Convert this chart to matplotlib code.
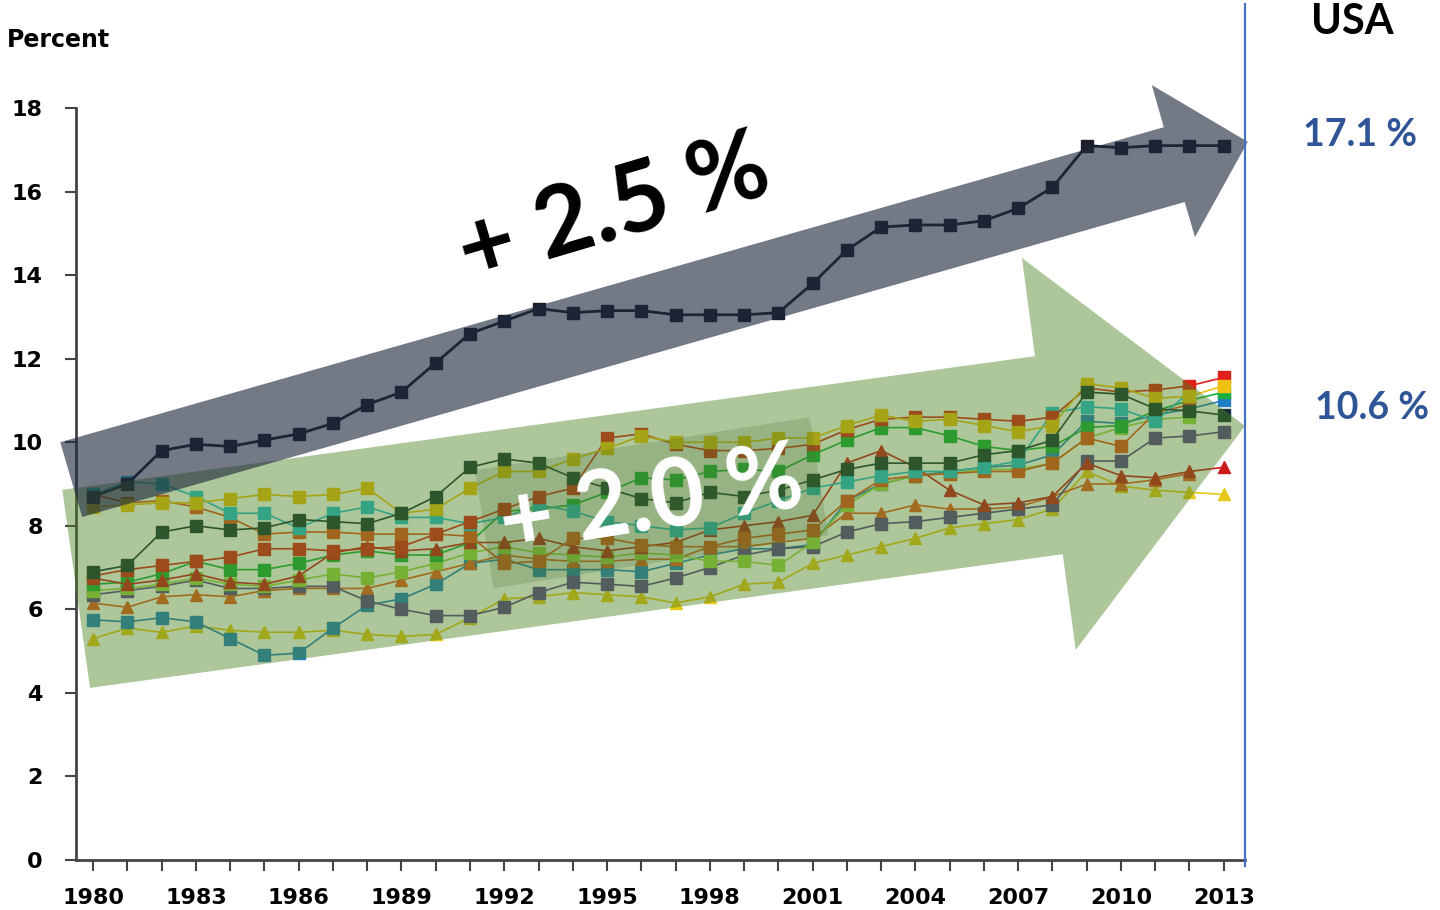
import numpy as np
import matplotlib
matplotlib.use("Agg")
import matplotlib.pyplot as plt
from matplotlib.patches import Polygon
from matplotlib.lines import Line2D

nan = np.nan
years = list(range(1980, 2014))
tick_years = list(range(1980, 2014, 3))

# health spending, percent of GDP
usa = [8.7, 9.0, 9.8, 9.95, 9.9, 10.05, 10.2, 10.45, 10.9, 11.2, 11.9, 12.6, 12.9, 13.2, 13.1, 13.15, 13.15,
       13.05, 13.05, 13.05, 13.1, 13.8, 14.6, 15.15, 15.2, 15.2, 15.3, 15.6, 16.1, 17.1, 17.05, 17.1, 17.1, 17.1]
dark_sq = [6.9, 7.05, 7.85, 8.0, 7.9, 7.95, 8.15, 8.1, 8.05, 8.3, 8.7, 9.4, 9.6, 9.5, 9.15, 8.9, 8.65,
           8.55, 8.8, 8.7, 8.85, 9.1, 9.35, 9.5, 9.5, 9.5, 9.7, 9.8, 10.05, 11.2, 11.15, 10.8, 10.75, 10.65]
yellow_sq = [8.45, 8.5, 8.55, 8.55, 8.65, 8.75, 8.7, 8.75, 8.9, 8.3, 8.4, 8.9, 9.3, 9.3, 9.6, 9.85, 10.15,
             10.0, 10.0, 10.0, 10.1, 10.1, 10.4, 10.65, 10.5, 10.55, 10.4, 10.25, 10.4, 11.4, 11.3, 11.05, 11.1, 11.35]
red_sq = [6.8, 6.95, 7.05, 7.15, 7.25, 7.45, 7.45, 7.4, 7.45, 7.5, 7.8, 8.1, 8.4, 8.7, 8.9, 10.1, 10.2,
          9.95, 9.8, 9.8, 9.85, 9.95, 10.3, 10.55, 10.6, 10.6, 10.55, 10.5, 10.6, 11.3, 11.2, 11.25, 11.35, 11.55]
orange_sq = [8.75, 8.55, 8.6, 8.45, 8.2, 7.8, 7.85, 7.85, 7.8, 7.8, 7.8, 7.75, 7.1, 7.15, 7.7, 7.7, 7.55,
             7.5, 7.5, 7.7, 7.8, 7.9, 8.6, 9.1, 9.2, 9.25, 9.3, 9.3, 9.5, 10.1, 9.9, 10.7, 10.9, nan]
cyan_sq = [8.75, 9.05, 9.0, 8.7, 8.3, 8.3, 7.95, 8.3, 8.45, 8.2, 8.2, 8.05, 8.2, 8.5, 8.35, 8.1, 8.0,
           7.9, 7.95, 8.3, 8.6, 8.9, 9.05, 9.2, 9.3, 9.3, 9.4, 9.55, 10.7, 10.85, 10.8, 10.5, 11.2, nan]
blue_sq = [5.75, 5.7, 5.8, 5.7, 5.3, 4.9, 4.95, 5.55, 6.1, 6.25, 6.6, 7.1, 7.2, 6.95, 6.95, 6.95, 6.9,
           7.1, 7.3, 7.45, 7.45, 7.55, 8.6, 9.0, 9.2, 9.3, 9.4, 9.45, 9.7, 10.5, 10.45, 10.65, 10.8, 11.0]
green_sq = [6.6, 6.65, 6.85, 7.15, 6.95, 6.95, 7.1, 7.3, 7.4, 7.3, 7.3, 7.6, 8.35, 8.4, 8.5, 8.8, 9.15,
            9.1, 9.3, 9.35, 9.3, 9.7, 10.05, 10.35, 10.35, 10.15, 9.9, 9.8, 9.9, 10.35, 10.4, 10.75, 11.0, 11.2]
lgreen_sq = [6.45, 6.5, 6.6, 6.75, 6.6, 6.55, 6.7, 6.85, 6.75, 6.9, 7.1, 7.35, 7.5, 7.35, 7.3, 7.25, 7.35,
             7.3, 7.15, 7.15, 7.05, 7.6, 8.5, 9.0, 9.2, 9.25, 9.35, 9.35, 9.5, 10.1, 10.35, 10.55, 10.6, nan]
purple_sq = [6.35, 6.45, 6.55, 6.7, 6.5, 6.5, 6.55, 6.55, 6.2, 6.0, 5.85, 5.85, 6.05, 6.4, 6.65, 6.6, 6.55,
             6.75, 7.0, 7.3, 7.45, 7.5, 7.85, 8.05, 8.1, 8.2, 8.3, 8.4, 8.5, 9.55, 9.55, 10.1, 10.15, 10.25]
red_tri = [6.75, 6.6, 6.7, 6.85, 6.65, 6.6, 6.8, 7.35, 7.5, 7.4, 7.45, 7.6, 7.6, 7.7, 7.5, 7.4, 7.5,
           7.6, 7.9, 8.0, 8.1, 8.25, 9.5, 9.8, 9.4, 8.85, 8.5, 8.55, 8.7, 9.5, 9.2, 9.15, 9.3, 9.4]
orange_tri = [6.15, 6.05, 6.3, 6.35, 6.3, 6.45, 6.5, 6.5, 6.5, 6.7, 6.9, 7.1, 7.3, 7.2, 7.15, 7.15, 7.2,
              7.2, 7.5, 7.5, 7.6, 7.7, 8.3, 8.3, 8.5, 8.4, 8.4, 8.45, 8.7, 9.0, 9.0, 9.1, 9.25, nan]
yellow_tri = [5.3, 5.55, 5.45, 5.6, 5.5, 5.45, 5.45, 5.5, 5.4, 5.35, 5.4, 5.8, 6.25, 6.3, 6.4, 6.35, 6.3,
              6.15, 6.3, 6.6, 6.65, 7.1, 7.3, 7.5, 7.7, 7.95, 8.05, 8.15, 8.4, 9.3, 8.95, 8.85, 8.8, 8.75]

others = [
    (yellow_tri, '#e8c818', '^'),
    (blue_sq, '#1f7fc4', 's'),
    (orange_tri, '#e85a22', '^'),
    (purple_sq, '#5a3f90', 's'),
    (lgreen_sq, '#9ad84a', 's'),
    (green_sq, '#18b040', 's'),
    (red_tri, '#cc1a1a', '^'),
    (orange_sq, '#e8501e', 's'),
    (cyan_sq, '#22c0d8', 's'),
    (red_sq, '#e02018', 's'),
    (yellow_sq, '#f0c010', 's'),
    (dark_sq, '#15333a', 's'),
]

# trend arrows as (year, percent) outlines
dark_arrow = [(1979.04, 10.0), (2011.25, 17.54), (2010.9, 18.55), (2013.7, 17.19),
              (2012.16, 14.91), (2011.86, 15.75), (1979.68, 8.21)]
green_arrow = [(1979.1, 8.86), (2007.49, 12.06), (2007.11, 14.41), (2013.62, 10.39),
               (2008.68, 5.03), (2008.3, 7.32), (1979.91, 4.12)]

label_font = ['Lato', 'DejaVu Sans']

fig = plt.figure(figsize=(14.4, 9.1), dpi=100)
ax = fig.add_axes([76 / 1440, 50 / 910, (1245 - 76) / 1440, (860 - 108) / 910])

for vals, col, mk in others:
    ax.plot(years, vals, color=col, marker=mk, markersize=8, lw=1.2)
ax.plot(years, usa, color='#1a1f2b', marker='s', markersize=8.5, lw=2)

ax.set_xlim(1979.5, 2013.62)
ax.set_ylim(0, 18)
ax.set_yticks(range(0, 19, 2))
ax.set_xticks(years)
ax.set_xticklabels([str(y) if y in tick_years else '' for y in years])
for s in ['top', 'right']:
    ax.spines[s].set_visible(False)
for s in ['left', 'bottom']:
    ax.spines[s].set_color('#444444')
    ax.spines[s].set_linewidth(2)
ax.tick_params(axis='both', length=8, width=1.5, color='#444444', labelsize=16)
ax.tick_params(axis='y', pad=16)
ax.tick_params(axis='x', pad=12)
for lab in ax.get_xticklabels() + ax.get_yticklabels():
    lab.set_fontweight('heavy')

ax.add_patch(Polygon(green_arrow, closed=True, fc='#4b821f', ec='none', alpha=0.45,
                     clip_on=False, zorder=5))
ax.add_patch(Polygon(dark_arrow, closed=True, fc='#1e283c', ec='none', alpha=0.62,
                     clip_on=False, zorder=6))

ax.text(1995.2, 15.55, '+ 2.5 %', rotation=16.5, fontsize=70, fontweight='bold', family=label_font,
        color='black', ha='center', va='center', zorder=8)
ax.text(1996.3, 8.55, '+ 2.0 %', rotation=9, fontsize=67, fontweight='bold', family=label_font,
        color='white', ha='center', va='center', zorder=8,
        bbox=dict(boxstyle='square,pad=0.18', fc='#3f6a2a', ec='none', alpha=0.2))

fig.text(58 / 1440, 1 - 40 / 910, 'Percent', fontsize=17, fontweight='heavy', ha='center', va='center')
fig.text(1352 / 1440, 1 - 22 / 910, 'USA', fontsize=30, fontweight='bold', family=label_font,
         ha='center', va='center')
fig.text(1360 / 1440, 1 - 135 / 910, '17.1 %', fontsize=27, fontweight='bold', family=label_font,
         color='#2f5597', ha='center', va='center')
fig.text(1372 / 1440, 1 - 408 / 910, '10.6 %', fontsize=27, fontweight='bold', family=label_font,
         color='#2f5597', ha='center', va='center')
fig.add_artist(Line2D([1245 / 1440, 1245 / 1440], [1 - 4 / 910, 1 - 866 / 910],
                      color='#4472c4', lw=1.6))

fig.savefig('out.png', dpi=100)
